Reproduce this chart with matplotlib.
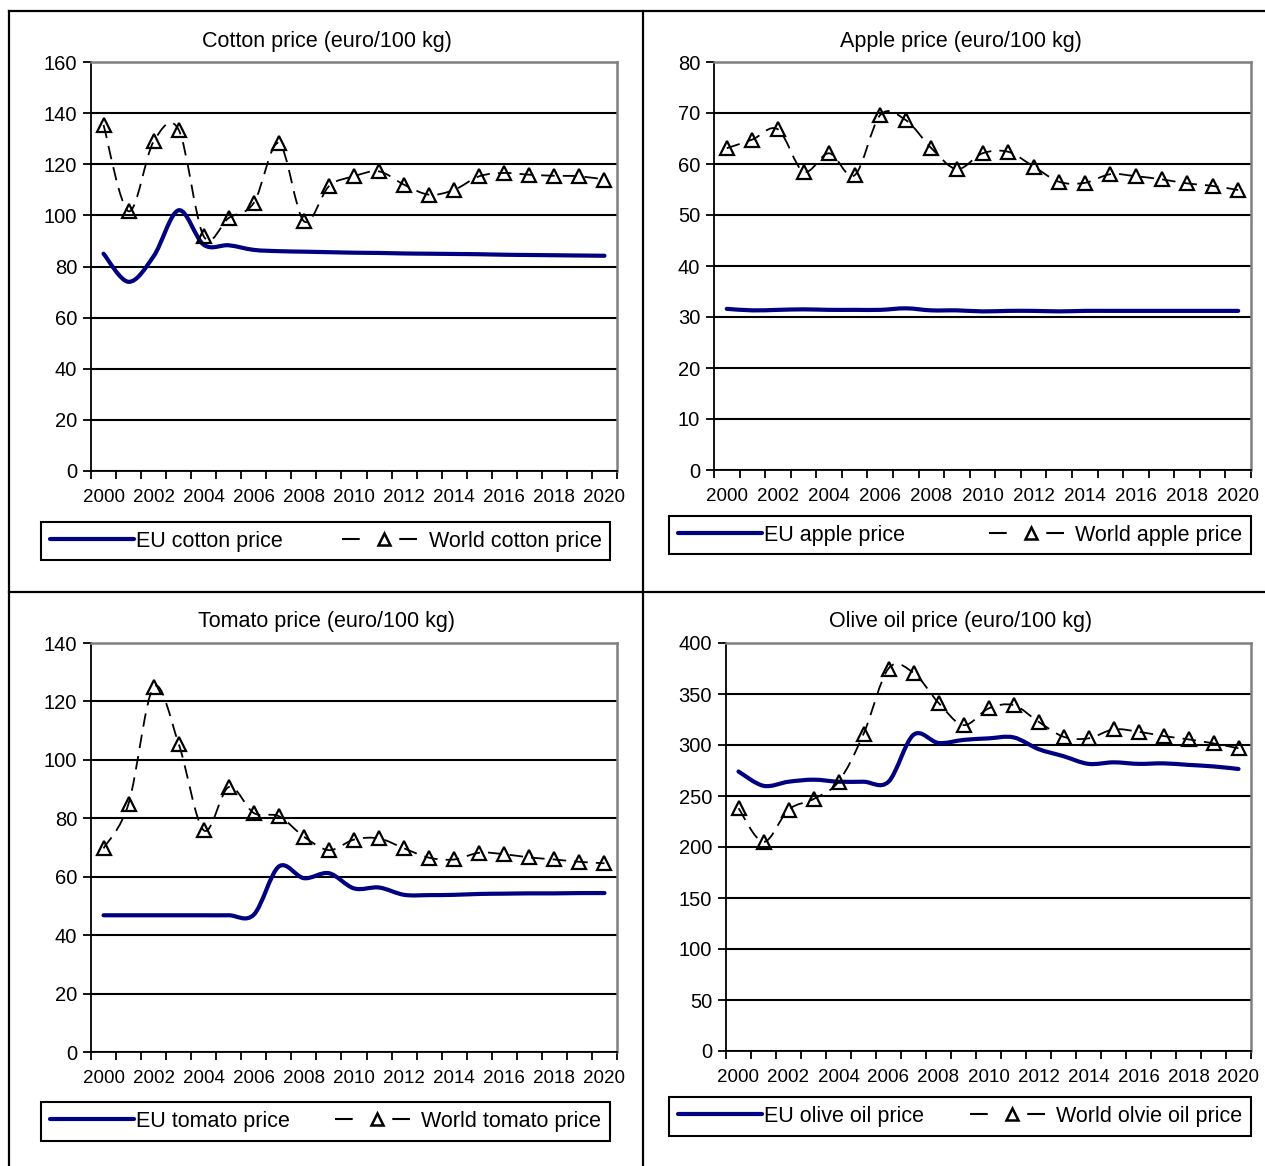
import numpy as np
import matplotlib
matplotlib.use('Agg')
import matplotlib.pyplot as plt
from matplotlib.path import Path
from matplotlib.patches import PathPatch
from matplotlib.lines import Line2D

plt.rcParams['font.family'] = ['Liberation Sans', 'DejaVu Sans']

years = list(range(2000, 2021))

cotton_eu = [85, 74, 84, 102, 88.5, 88.3, 86.5, 86, 85.8, 85.6, 85.4, 85.3, 85.1, 85, 84.9, 84.8, 84.6, 84.5, 84.4, 84.3, 84.2]
cotton_world = [135.4, 101.6, 128.9, 133.5, 91.8, 99, 104.9, 128.3, 97.7, 111.4, 115.3, 117.2, 112, 108.1, 110, 115.3, 116.6, 115.9, 115.5, 115.3, 114]

apple_eu = [31.6, 31.3, 31.4, 31.5, 31.4, 31.4, 31.4, 31.7, 31.3, 31.3, 31.1, 31.2, 31.2, 31.1, 31.2, 31.2, 31.2, 31.2, 31.2, 31.2, 31.2]
apple_world = [63.1, 64.8, 66.8, 58.5, 62.1, 57.8, 69.6, 68.6, 63.1, 59, 62.1, 62.4, 59.5, 56.5, 56.3, 58, 57.6, 57, 56.2, 55.7, 54.9]

tomato_eu = [46.8, 46.8, 46.8, 46.8, 46.8, 46.8, 47, 63.5, 59.5, 61.2, 56, 56.3, 53.8, 53.7, 53.8, 54.1, 54.2, 54.3, 54.3, 54.4, 54.4]
tomato_world = [69.7, 85, 124.9, 105.5, 75.9, 90.7, 81.8, 80.7, 73.7, 69.1, 72.7, 73.1, 69.7, 66.5, 65.9, 68.2, 67.7, 66.6, 65.9, 65.1, 64.6]

olive_eu = [274, 260, 264, 266, 264, 264, 264, 310, 302, 305, 306.5, 307.5, 296, 289, 281.5, 283, 281.5, 282, 280.5, 279, 276.5]
olive_world = [238, 205, 236.5, 247, 264, 310.7, 375, 370.7, 341.4, 319.5, 335.8, 339.1, 322.8, 308.1, 306.5, 315.3, 313, 308.8, 305.5, 301.6, 296.7]

W, H = 1265, 1166
fig = plt.figure(figsize=(W / 100, H / 100), dpi=100)

NAVY = '#000080'


def smooth_path(x, y):
    # excel-style smoothed line as bezier segments
    pts = np.column_stack([x, y]).astype(float)
    n = len(pts)
    verts = [pts[0]]
    codes = [Path.MOVETO]
    for i in range(n - 1):
        p0 = pts[i - 1] if i > 0 else pts[i]
        p1 = pts[i]
        p2 = pts[i + 1]
        p3 = pts[i + 2] if i + 2 < n else pts[i + 1]
        verts += [p1 + (p2 - p0) / 6, p2 - (p3 - p1) / 6, p2]
        codes += [Path.CURVE4] * 3
    return Path(verts, codes)


def panel(box, title, title_xy, ymax, ystep, eu, world, names, legbox):
    l, t, r, b = box
    ax = fig.add_axes([l / W, 1 - b / H, (r - l) / W, (b - t) / H])
    x = np.arange(len(years))
    ax.set_xlim(-0.5, len(years) - 0.5)
    ax.set_ylim(0, ymax)
    ax.set_yticks(np.arange(0, ymax + 1, ystep))
    ax.yaxis.grid(True, color='black', lw=1.5)
    ax.set_axisbelow(True)
    ax.set_xticks(x[::2])
    ax.set_xticklabels([str(v) for v in years[::2]])
    ax.set_xticks(np.arange(-0.5, len(years), 1), minor=True)
    ax.tick_params(axis='x', which='major', length=0, pad=13, labelsize=13.5)
    ax.tick_params(axis='x', which='minor', length=6, width=1.3, direction='out')
    ax.tick_params(axis='y', length=6, width=1.3, direction='out', pad=4, labelsize=14.5)
    for s in ['left', 'bottom']:
        ax.spines[s].set_color('black')
        ax.spines[s].set_linewidth(1.3)
    for s in ['top', 'right']:
        ax.spines[s].set_color('#808080')
        ax.spines[s].set_linewidth(1.8)

    ax.add_patch(PathPatch(smooth_path(x, eu), fill=False, edgecolor=NAVY, lw=3, capstyle='round', joinstyle='round', zorder=3))
    ax.add_patch(PathPatch(smooth_path(x, world), fill=False, edgecolor='black', lw=1.3, linestyle=(0, (7.5, 4.5)), zorder=3))
    ax.plot(x, world, linestyle='none', marker='^', ms=9.5, mfc='none', mec='black', mew=1.6, zorder=4)

    fig.text(title_xy[0] / W, 1 - title_xy[1] / H, title, ha='center', va='center', fontsize=15.5)

    h_eu = Line2D([], [], color=NAVY, lw=3, solid_capstyle='round')
    h_w = Line2D([], [], color='black', lw=1.5, linestyle=(0, (8.5, 19, 8.5, 40)),
                 marker='^', ms=9, mfc='none', mec='black', mew=1.8)
    lx0, ly0, lx1, ly1 = legbox
    leg = ax.legend([h_eu, h_w], names, loc='center', ncol=2, mode='expand',
                    bbox_to_anchor=(lx0 / W, 1 - ly1 / H, (lx1 - lx0) / W, (ly1 - ly0) / H),
                    bbox_transform=fig.transFigure, borderaxespad=0, fontsize=15.5,
                    handlelength=3.9, handletextpad=0.1, numpoints=1, fancybox=False,
                    edgecolor='black', framealpha=1, borderpad=0.4, columnspacing=1.0)
    leg.get_frame().set_linewidth(1.5)
    return ax


panel((91, 62, 617, 471), 'Cotton price (euro/100 kg)', (327, 41), 160, 20,
      cotton_eu, cotton_world, ['EU cotton price', 'World cotton price'], (41, 520, 610, 562))
panel((714, 62, 1251, 470), 'Apple price (euro/100 kg)', (961, 41), 80, 10,
      apple_eu, apple_world, ['EU apple price', 'World apple price'], (669, 514, 1251, 556))
panel((91, 643, 617, 1052), 'Tomato price (euro/100 kg)', (327, 622), 140, 20,
      tomato_eu, tomato_world, ['EU tomato price', 'World tomato price'], (41, 1101, 610, 1142))
panel((726, 643, 1251, 1051), 'Olive oil price (euro/100 kg)', (961, 622), 400, 50,
      olive_eu, olive_world, ['EU olive oil price', 'World olvie oil price'], (669, 1096, 1251, 1137))

# table borders around the four panels
for xs, ys in [((9, 1265), (11, 11)), ((9, 9), (11, 1166)), ((643, 643), (11, 1166)), ((9, 1265), (592, 592))]:
    fig.add_artist(Line2D([v / W for v in xs], [1 - v / H for v in ys], color='black', lw=1.6))

fig.savefig('out.png', dpi=100)
